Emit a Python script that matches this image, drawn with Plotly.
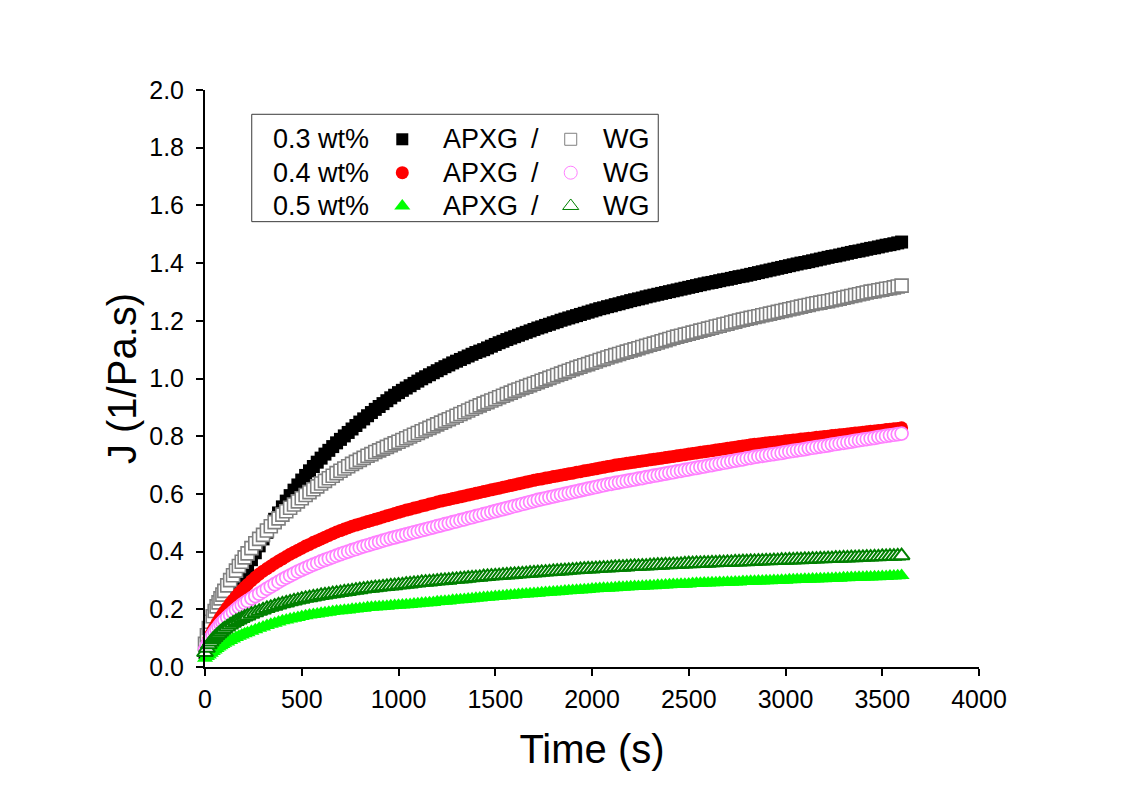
import plotly.graph_objects as go

# ---------------- data ----------------
time_s = [0, 10, 20, 30, 40, 50, 60, 70, 80, 90, 100, 115, 130, 145, 160, 175, 190, 205, 220, 240, 260, 280,
          300, 320, 340, 360, 380, 400, 420, 440, 460, 480,
          500, 520, 540, 560, 580, 600, 620, 640, 660, 680,
          700, 720, 740, 760, 780, 800, 820, 840, 860, 880,
          900, 920, 940, 960, 980, 1000, 1020, 1040, 1060, 1080,
          1100, 1120, 1140, 1160, 1180, 1200, 1220, 1240, 1260, 1280,
          1300, 1320, 1340, 1360, 1380, 1400, 1420, 1440, 1460, 1480,
          1500, 1520, 1540, 1560, 1580, 1600, 1620, 1640, 1660, 1680,
          1700, 1720, 1740, 1760, 1780, 1800, 1820, 1840, 1860, 1880,
          1900, 1920, 1940, 1960, 1980, 2000, 2020, 2040, 2060, 2080,
          2100, 2120, 2140, 2160, 2180, 2200, 2220, 2240, 2260, 2280,
          2300, 2320, 2340, 2360, 2380, 2400, 2420, 2440, 2460, 2480,
          2500, 2520, 2540, 2560, 2580, 2600, 2620, 2640, 2660, 2680,
          2700, 2720, 2740, 2760, 2780, 2800, 2820, 2840, 2860, 2880,
          2900, 2920, 2940, 2960, 2980, 3000, 3020, 3040, 3060, 3080,
          3100, 3120, 3140, 3160, 3180, 3200, 3220, 3240, 3260, 3280,
          3300, 3320, 3340, 3360, 3380, 3400, 3420, 3440, 3460, 3480,
          3500, 3520, 3540, 3560, 3580, 3600]

apxg_03 = [0.050, 0.064, 0.078, 0.092, 0.106, 0.120, 0.134, 0.148, 0.161, 0.175, 0.188, 0.208, 0.229, 0.249, 0.269, 0.290, 0.309, 0.328, 0.347, 0.372, 0.396, 0.420,
           0.444, 0.467, 0.490, 0.512, 0.534, 0.555, 0.575, 0.594, 0.613, 0.631,
           0.648, 0.664, 0.680, 0.695, 0.710, 0.724, 0.738, 0.751, 0.764, 0.777,
           0.789, 0.801, 0.813, 0.825, 0.837, 0.849, 0.860, 0.871, 0.882, 0.893,
           0.903, 0.913, 0.923, 0.933, 0.942, 0.951, 0.959, 0.967, 0.975, 0.983,
           0.991, 0.999, 1.006, 1.013, 1.020, 1.027, 1.034, 1.041, 1.047, 1.054,
           1.060, 1.066, 1.072, 1.078, 1.084, 1.090, 1.095, 1.100, 1.106, 1.112,
           1.118, 1.124, 1.129, 1.135, 1.140, 1.145, 1.150, 1.155, 1.160, 1.165,
           1.170, 1.175, 1.179, 1.184, 1.188, 1.193, 1.197, 1.202, 1.206, 1.210,
           1.214, 1.218, 1.222, 1.226, 1.230, 1.234, 1.238, 1.242, 1.245, 1.249,
           1.252, 1.256, 1.259, 1.263, 1.266, 1.270, 1.273, 1.276, 1.279, 1.283,
           1.286, 1.289, 1.292, 1.295, 1.298, 1.301, 1.304, 1.307, 1.310, 1.313,
           1.316, 1.319, 1.322, 1.325, 1.328, 1.331, 1.333, 1.336, 1.339, 1.342,
           1.344, 1.347, 1.350, 1.353, 1.355, 1.358, 1.361, 1.364, 1.367, 1.370,
           1.373, 1.376, 1.379, 1.382, 1.385, 1.388, 1.391, 1.394, 1.397, 1.400,
           1.402, 1.405, 1.408, 1.411, 1.414, 1.417, 1.420, 1.423, 1.425, 1.428,
           1.431, 1.434, 1.437, 1.440, 1.442, 1.445, 1.448, 1.451, 1.453, 1.456,
           1.459, 1.462, 1.464, 1.467, 1.470, 1.473]

wg_03 = [0.080, 0.110, 0.135, 0.157, 0.176, 0.194, 0.210, 0.224, 0.238, 0.251, 0.264, 0.283, 0.301, 0.318, 0.334, 0.350, 0.365, 0.380, 0.394, 0.412, 0.429, 0.444,
         0.458, 0.473, 0.488, 0.502, 0.515, 0.528, 0.540, 0.552, 0.563, 0.574,
         0.585, 0.596, 0.606, 0.616, 0.626, 0.636, 0.645, 0.654, 0.663, 0.672,
         0.680, 0.688, 0.696, 0.704, 0.711, 0.718, 0.725, 0.732, 0.738, 0.745,
         0.751, 0.757, 0.763, 0.769, 0.775, 0.781, 0.787, 0.793, 0.799, 0.805,
         0.811, 0.817, 0.823, 0.829, 0.835, 0.841, 0.847, 0.853, 0.859, 0.865,
         0.871, 0.877, 0.883, 0.889, 0.895, 0.901, 0.907, 0.913, 0.918, 0.924,
         0.929, 0.935, 0.940, 0.946, 0.951, 0.957, 0.962, 0.967, 0.972, 0.977,
         0.982, 0.987, 0.992, 0.997, 1.002, 1.007, 1.012, 1.017, 1.022, 1.027,
         1.032, 1.037, 1.041, 1.046, 1.050, 1.055, 1.059, 1.064, 1.068, 1.073,
         1.077, 1.081, 1.085, 1.089, 1.093, 1.097, 1.101, 1.105, 1.109, 1.113,
         1.117, 1.121, 1.125, 1.129, 1.133, 1.137, 1.141, 1.145, 1.148, 1.152,
         1.155, 1.159, 1.162, 1.166, 1.169, 1.173, 1.176, 1.180, 1.183, 1.187,
         1.190, 1.194, 1.197, 1.201, 1.204, 1.207, 1.210, 1.213, 1.216, 1.219,
         1.222, 1.225, 1.228, 1.231, 1.234, 1.237, 1.240, 1.243, 1.246, 1.249,
         1.252, 1.255, 1.258, 1.261, 1.263, 1.266, 1.268, 1.271, 1.274, 1.277,
         1.280, 1.283, 1.286, 1.289, 1.292, 1.295, 1.298, 1.301, 1.303, 1.306,
         1.308, 1.311, 1.313, 1.316, 1.319, 1.322]

apxg_04 = [0.060, 0.080, 0.097, 0.112, 0.126, 0.138, 0.150, 0.161, 0.172, 0.182, 0.192, 0.206, 0.220, 0.232, 0.244, 0.255, 0.266, 0.276, 0.286, 0.299, 0.311, 0.322,
           0.332, 0.341, 0.350, 0.359, 0.367, 0.375, 0.383, 0.391, 0.398, 0.405,
           0.412, 0.419, 0.425, 0.432, 0.438, 0.444, 0.450, 0.456, 0.462, 0.468,
           0.473, 0.478, 0.483, 0.488, 0.492, 0.496, 0.500, 0.504, 0.508, 0.512,
           0.516, 0.520, 0.524, 0.528, 0.532, 0.536, 0.540, 0.544, 0.547, 0.551,
           0.554, 0.558, 0.561, 0.565, 0.568, 0.572, 0.575, 0.578, 0.581, 0.584,
           0.587, 0.590, 0.593, 0.596, 0.599, 0.602, 0.605, 0.608, 0.611, 0.614,
           0.617, 0.620, 0.623, 0.626, 0.629, 0.632, 0.635, 0.638, 0.641, 0.644,
           0.647, 0.650, 0.652, 0.655, 0.657, 0.660, 0.662, 0.665, 0.667, 0.670,
           0.672, 0.675, 0.677, 0.680, 0.682, 0.685, 0.687, 0.690, 0.692, 0.695,
           0.697, 0.700, 0.702, 0.704, 0.706, 0.708, 0.710, 0.712, 0.714, 0.716,
           0.718, 0.720, 0.722, 0.724, 0.726, 0.728, 0.730, 0.732, 0.734, 0.736,
           0.738, 0.740, 0.742, 0.744, 0.746, 0.748, 0.750, 0.752, 0.754, 0.756,
           0.758, 0.760, 0.762, 0.764, 0.766, 0.768, 0.770, 0.772, 0.773, 0.775,
           0.776, 0.778, 0.779, 0.781, 0.782, 0.784, 0.785, 0.787, 0.788, 0.790,
           0.791, 0.793, 0.794, 0.796, 0.797, 0.799, 0.800, 0.802, 0.803, 0.805,
           0.806, 0.808, 0.809, 0.811, 0.812, 0.814, 0.815, 0.817, 0.818, 0.820,
           0.821, 0.823, 0.824, 0.826, 0.827, 0.829]

wg_04 = [0.060, 0.075, 0.089, 0.101, 0.112, 0.122, 0.131, 0.140, 0.148, 0.155, 0.162, 0.172, 0.181, 0.190, 0.199, 0.207, 0.215, 0.222, 0.229, 0.238, 0.246, 0.254,
         0.262, 0.271, 0.279, 0.287, 0.295, 0.303, 0.310, 0.317, 0.324, 0.331,
         0.337, 0.343, 0.349, 0.355, 0.360, 0.366, 0.371, 0.376, 0.381, 0.386,
         0.391, 0.396, 0.400, 0.405, 0.409, 0.414, 0.418, 0.422, 0.426, 0.430,
         0.434, 0.438, 0.442, 0.446, 0.449, 0.453, 0.456, 0.460, 0.463, 0.467,
         0.470, 0.474, 0.477, 0.481, 0.484, 0.488, 0.491, 0.495, 0.498, 0.502,
         0.505, 0.509, 0.512, 0.516, 0.519, 0.523, 0.526, 0.530, 0.533, 0.537,
         0.540, 0.544, 0.547, 0.551, 0.554, 0.558, 0.561, 0.565, 0.568, 0.572,
         0.575, 0.579, 0.582, 0.585, 0.588, 0.591, 0.594, 0.597, 0.600, 0.603,
         0.606, 0.609, 0.612, 0.615, 0.618, 0.621, 0.624, 0.627, 0.630, 0.633,
         0.635, 0.638, 0.640, 0.643, 0.645, 0.648, 0.650, 0.653, 0.655, 0.658,
         0.660, 0.663, 0.665, 0.668, 0.670, 0.673, 0.675, 0.678, 0.680, 0.683,
         0.685, 0.688, 0.690, 0.693, 0.695, 0.698, 0.700, 0.703, 0.705, 0.708,
         0.710, 0.713, 0.715, 0.718, 0.720, 0.723, 0.725, 0.728, 0.730, 0.732,
         0.734, 0.736, 0.738, 0.740, 0.742, 0.745, 0.747, 0.749, 0.751, 0.753,
         0.755, 0.758, 0.760, 0.762, 0.764, 0.766, 0.768, 0.771, 0.773, 0.775,
         0.777, 0.779, 0.781, 0.784, 0.786, 0.788, 0.790, 0.792, 0.794, 0.797,
         0.799, 0.801, 0.803, 0.805, 0.807, 0.809]

apxg_05 = [0.030, 0.036, 0.042, 0.048, 0.054, 0.059, 0.064, 0.069, 0.074, 0.078, 0.082, 0.087, 0.092, 0.097, 0.102, 0.107, 0.111, 0.115, 0.119, 0.124, 0.129, 0.134,
           0.139, 0.144, 0.148, 0.152, 0.156, 0.160, 0.163, 0.166, 0.169, 0.172,
           0.175, 0.178, 0.180, 0.182, 0.184, 0.186, 0.188, 0.190, 0.192, 0.194,
           0.195, 0.197, 0.198, 0.200, 0.201, 0.203, 0.204, 0.206, 0.207, 0.208,
           0.209, 0.210, 0.211, 0.212, 0.213, 0.214, 0.215, 0.216, 0.217, 0.218,
           0.219, 0.221, 0.222, 0.223, 0.224, 0.226, 0.227, 0.228, 0.229, 0.231,
           0.232, 0.233, 0.234, 0.236, 0.237, 0.238, 0.239, 0.241, 0.242, 0.243,
           0.244, 0.245, 0.246, 0.248, 0.249, 0.250, 0.251, 0.252, 0.253, 0.254,
           0.255, 0.256, 0.257, 0.258, 0.259, 0.260, 0.261, 0.262, 0.263, 0.264,
           0.265, 0.266, 0.267, 0.268, 0.269, 0.270, 0.271, 0.272, 0.273, 0.273,
           0.274, 0.275, 0.276, 0.276, 0.277, 0.278, 0.279, 0.279, 0.280, 0.281,
           0.282, 0.282, 0.283, 0.283, 0.284, 0.285, 0.286, 0.286, 0.287, 0.287,
           0.288, 0.289, 0.290, 0.290, 0.291, 0.291, 0.292, 0.292, 0.293, 0.293,
           0.294, 0.294, 0.295, 0.295, 0.296, 0.296, 0.297, 0.297, 0.298, 0.298,
           0.299, 0.299, 0.300, 0.300, 0.301, 0.301, 0.302, 0.302, 0.303, 0.303,
           0.304, 0.304, 0.305, 0.305, 0.306, 0.306, 0.307, 0.307, 0.308, 0.308,
           0.309, 0.309, 0.310, 0.310, 0.311, 0.311, 0.312, 0.312, 0.313, 0.313,
           0.314, 0.314, 0.315, 0.315, 0.316, 0.317]

wg_05 = [0.050, 0.065, 0.077, 0.087, 0.095, 0.102, 0.109, 0.115, 0.121, 0.127, 0.132, 0.139, 0.146, 0.152, 0.158, 0.163, 0.168, 0.173, 0.177, 0.183, 0.188, 0.193,
         0.198, 0.203, 0.207, 0.211, 0.215, 0.219, 0.222, 0.226, 0.229, 0.232,
         0.235, 0.238, 0.240, 0.243, 0.245, 0.248, 0.250, 0.252, 0.254, 0.256,
         0.258, 0.260, 0.262, 0.264, 0.266, 0.268, 0.270, 0.272, 0.273, 0.275,
         0.276, 0.278, 0.279, 0.281, 0.282, 0.284, 0.285, 0.287, 0.288, 0.290,
         0.291, 0.293, 0.294, 0.295, 0.296, 0.298, 0.299, 0.300, 0.301, 0.303,
         0.304, 0.305, 0.306, 0.308, 0.309, 0.310, 0.311, 0.313, 0.314, 0.315,
         0.316, 0.317, 0.318, 0.319, 0.320, 0.321, 0.322, 0.323, 0.324, 0.325,
         0.326, 0.327, 0.328, 0.329, 0.330, 0.331, 0.332, 0.333, 0.334, 0.335,
         0.336, 0.337, 0.338, 0.339, 0.340, 0.340, 0.341, 0.342, 0.343, 0.343,
         0.344, 0.345, 0.346, 0.346, 0.347, 0.348, 0.349, 0.349, 0.350, 0.350,
         0.351, 0.352, 0.353, 0.353, 0.354, 0.354, 0.355, 0.355, 0.356, 0.357,
         0.358, 0.358, 0.359, 0.359, 0.360, 0.360, 0.361, 0.361, 0.362, 0.362,
         0.363, 0.363, 0.364, 0.364, 0.365, 0.365, 0.366, 0.366, 0.367, 0.367,
         0.368, 0.368, 0.369, 0.369, 0.370, 0.370, 0.371, 0.371, 0.372, 0.372,
         0.373, 0.373, 0.374, 0.374, 0.375, 0.375, 0.376, 0.376, 0.377, 0.377,
         0.378, 0.378, 0.379, 0.379, 0.380, 0.380, 0.381, 0.381, 0.382, 0.382,
         0.383, 0.383, 0.384, 0.384, 0.385, 0.386]

concentrations = ["0.3 wt%", "0.4 wt%", "0.5 wt%"]
x_ticks = [0, 500, 1000, 1500, 2000, 2500, 3000, 3500, 4000]
y_ticks = [0.0, 0.2, 0.4, 0.6, 0.8, 1.0, 1.2, 1.4, 1.6, 1.8, 2.0]

for _s in (apxg_03, wg_03, apxg_04, wg_04, apxg_05, wg_05):
    assert len(_s) == len(time_s), (len(_s), len(time_s))

# ---------------- styles ----------------
FONT = "Liberation Sans, Arial, sans-serif"
styles = {
    "apxg_03": dict(symbol="square", size=13, color="#000000", line=dict(width=0)),
    "wg_03": dict(symbol="square", size=13, color="#ffffff", line=dict(width=1.6, color="#808080")),
    "apxg_04": dict(symbol="circle", size=13, color="#ff0000", line=dict(width=0)),
    "wg_04": dict(symbol="circle", size=13, color="#ffffff", line=dict(width=1.7, color="#ff80ff")),
    "apxg_05": dict(symbol="triangle-up", size=14, color="#00ff00", line=dict(width=0)),
    "wg_05": dict(symbol="triangle-up", size=14, color="#ffffff", line=dict(width=2, color="#008000")),
}
legend_styles = {
    "apxg_03": dict(symbol="square", size=12, color="#000000", line=dict(width=0)),
    "wg_03": dict(symbol="square", size=12, color="#ffffff", line=dict(width=1, color="#808080")),
    "apxg_04": dict(symbol="circle", size=13, color="#ff0000", line=dict(width=0)),
    "wg_04": dict(symbol="circle", size=13, color="#ffffff", line=dict(width=1, color="#ff80ff")),
    "apxg_05": dict(symbol="triangle-up", size=14, color="#00ff00", line=dict(width=0)),
    "wg_05": dict(symbol="triangle-up", size=14, color="#ffffff", line=dict(width=1, color="#008000")),
}

series = [
    ("APXG 0.3 wt%", apxg_03, "apxg_03"),
    ("WG 0.3 wt%", wg_03, "wg_03"),
    ("APXG 0.4 wt%", apxg_04, "apxg_04"),
    ("WG 0.4 wt%", wg_04, "wg_04"),
    ("APXG 0.5 wt%", apxg_05, "apxg_05"),
    ("WG 0.5 wt%", wg_05, "wg_05"),
]

fig = go.Figure()
for name, vals, key in series:
    fig.add_trace(go.Scatter(x=time_s, y=vals, mode="markers", name=name,
                             marker=styles[key], showlegend=False, cliponaxis=False))

# ---------------- custom legend (box + text + sample symbols) ----------------
row_y = [0.9146, 0.8567, 0.7990]
filled_keys = ["apxg_03", "apxg_04", "apxg_05"]
open_keys = ["wg_03", "wg_04", "wg_05"]
x_conc, x_fill, x_apxg, x_slash, x_open, x_wg = 0.0853, 0.2549, 0.3045, 0.4264, 0.4725, 0.5116
LEG_FONT = dict(family=FONT, size=27, color="black")

fig.add_shape(type="rect", xref="paper", yref="paper", x0=0.0604, x1=0.5856, y0=0.7718, y1=0.9579,
              line=dict(color="#3a3a3a", width=1), fillcolor="rgba(0,0,0,0)")

for i, conc in enumerate(concentrations):
    fig.add_annotation(xref="paper", yref="paper", x=x_conc, y=row_y[i], text=conc, showarrow=False,
                       xanchor="left", yanchor="middle", font=LEG_FONT)
    fig.add_annotation(xref="paper", yref="paper", x=x_apxg, y=row_y[i], text="APXG", showarrow=False,
                       xanchor="left", yanchor="middle", font=LEG_FONT)
    fig.add_annotation(xref="paper", yref="paper", x=x_slash, y=row_y[i], text="/", showarrow=False,
                       xanchor="center", yanchor="middle", font=LEG_FONT)
    fig.add_annotation(xref="paper", yref="paper", x=x_wg, y=row_y[i], text="WG", showarrow=False,
                       xanchor="left", yanchor="middle", font=LEG_FONT)
    fig.add_trace(go.Scatter(x=[x_fill], y=[row_y[i]], mode="markers", xaxis="x2", yaxis="y2",
                             marker=legend_styles[filled_keys[i]], showlegend=False, hoverinfo="skip"))
    fig.add_trace(go.Scatter(x=[x_open], y=[row_y[i]], mode="markers", xaxis="x2", yaxis="y2",
                             marker=legend_styles[open_keys[i]], showlegend=False, hoverinfo="skip"))

axis_common = dict(showgrid=False, zeroline=False, showline=True, linecolor="black", linewidth=2,
                   ticks="outside", ticklen=7, tickwidth=2, tickcolor="black",
                   tickfont=dict(family=FONT, size=25, color="black"), mirror=False)

fig.update_layout(
    width=1122, height=784,
    margin=dict(l=197, r=151, t=82, b=125),
    paper_bgcolor="white", plot_bgcolor="white",
    showlegend=False,
    xaxis=dict(range=[0, 4000], tickvals=x_ticks, ticktext=[str(v) for v in x_ticks],
               ticklabelstandoff=2,
               title=dict(text="Time (s)", font=dict(family=FONT, size=40, color="black"), standoff=23),
               **axis_common),
    yaxis=dict(range=[0, 2.0], tickvals=y_ticks, ticktext=[f"{v:.1f}" for v in y_ticks],
               ticklabelstandoff=7,
               title=dict(text="J (1/Pa.s)", font=dict(family=FONT, size=40, color="black"), standoff=0),
               **axis_common),
    xaxis2=dict(overlaying="x", range=[0, 1], visible=False, fixedrange=True),
    yaxis2=dict(overlaying="y", range=[0, 1], visible=False, fixedrange=True),
)

fig.write_html("out.html")
